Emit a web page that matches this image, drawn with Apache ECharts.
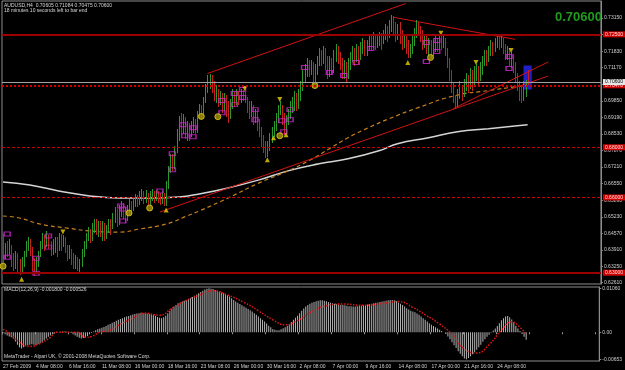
<!DOCTYPE html>
<html>
<head>
<meta charset="utf-8">
<script src="https://cdn.jsdelivr.net/npm/echarts@6.0.0/dist/echarts.min.js"></script>
<style>
html,body{margin:0;padding:0;background:#000;}
#chart{width:625px;height:370px;}
</style>
</head>
<body>
<div id="chart"></div>
<script>
// AUDUSD H4 bars (price), open of each bar = previous close
var firstOpen = 0.6446;
var closes = [
  .6366,.6394,.6378,.6402,.6354,.6338,.6366,.6322,.6306,.6338,.6378,.6402,.6422,.6386,.6338,.6314,
  .6338,.6378,.6406,.6434,.6414,.6442,.6410,.6386,.6406,.6426,.6402,.6434,.6418,.6442,.6394,.6370,
  .6386,.6354,.6330,.6346,.6322,.6338,.6378,.6410,.6442,.6466,.6434,.6474,.6498,.6474,.6490,.6466,
  .6482,.6450,.6474,.6498,.6482,.6514,.6538,.6506,.6530,.6562,.6538,.6514,.6546,.6570,.6554,.6578,
  .6594,.6578,.6602,.6614,.6594,.6610,.6586,.6602,.6618,.6598,.6614,.6606,.6594,.6610,.6586,.6642,
  .6706,.6754,.6726,.6786,.6846,.6898,.6874,.6906,.6858,.6882,.6850,.6874,.6898,.6866,.6922,.6946,
  .6938,.6986,.7034,.7066,.7074,.7042,.7002,.7018,.6986,.7006,.6970,.6994,.6954,.6930,.6970,.7002,
  .6986,.7010,.6994,.7018,.7010,.6986,.6970,.6938,.6954,.6914,.6930,.6890,.6858,.6826,.6794,.6770,
  .6802,.6834,.6858,.6882,.6914,.6946,.6962,.6922,.6874,.6906,.6938,.6954,.6970,.6994,.6970,.7002,
  .7042,.7082,.7106,.7130,.7106,.7122,.7082,.7106,.7138,.7170,.7146,.7178,.7130,.7106,.7138,.7114,
  .7154,.7186,.7162,.7130,.7098,.7122,.7090,.7122,.7154,.7178,.7154,.7186,.7162,.7194,.7210,.7186,
  .7202,.7226,.7210,.7234,.7210,.7226,.7242,.7226,.7250,.7266,.7250,.7282,.7306,.7274,.7242,.7266,
  .7234,.7210,.7226,.7194,.7170,.7186,.7218,.7250,.7282,.7266,.7242,.7210,.7226,.7194,.7210,.7186,
  .7202,.7218,.7202,.7226,.7210,.7234,.7186,.7138,.7090,.7042,.6994,.6970,.7002,.7034,.7010,.7042,
  .7066,.7042,.7074,.7050,.7082,.7106,.7074,.7106,.7138,.7162,.7146,.7178,.7202,.7186,.7210,.7226,
  .7210,.7226,.7194,.7170,.7186,.7146,.7162,.7122,.7082,.7050,.7018,.7002,.7042,.7061,.7060
];
var highs = [
  .6454,.6418,.6426,.6434,.6410,.6378,.6386,.6378,.6354,.6362,.6386,.6426,.6442,.6434,.6402,.6358,
  .6362,.6386,.6426,.6458,.6450,.6466,.6450,.6426,.6434,.6442,.6442,.6458,.6454,.6450,.6442,.6410,
  .6410,.6394,.6378,.6370,.6362,.6354,.6394,.6426,.6458,.6482,.6474,.6498,.6514,.6514,.6506,.6506,
  .6506,.6498,.6490,.6514,.6514,.6538,.6562,.6554,.6570,.6586,.6578,.6562,.6570,.6594,.6586,.6602,
  .6614,.6610,.6626,.6634,.6626,.6630,.6618,.6626,.6634,.6626,.6630,.6626,.6618,.6626,.6618,.6666,
  .6726,.6774,.6774,.6806,.6874,.6926,.6938,.6934,.6922,.6906,.6898,.6906,.6922,.6914,.6946,.6974,
  .6970,.7002,.7054,.7090,.7094,.7090,.7066,.7050,.7034,.7026,.7018,.7018,.7010,.6986,.6994,.7034,
  .7026,.7034,.7026,.7034,.7030,.7022,.7002,.6986,.6986,.6970,.6954,.6946,.6914,.6882,.6850,.6826,
  .6826,.6858,.6882,.6906,.6938,.6970,.6986,.6970,.6938,.6930,.6954,.6986,.7002,.7026,.7018,.7034,
  .7066,.7106,.7130,.7154,.7146,.7146,.7138,.7130,.7162,.7194,.7186,.7202,.7194,.7162,.7162,.7154,
  .7186,.7210,.7202,.7178,.7154,.7146,.7138,.7154,.7178,.7202,.7194,.7210,.7202,.7218,.7234,.7226,
  .7226,.7250,.7242,.7258,.7250,.7250,.7258,.7254,.7266,.7290,.7282,.7306,.7326,.7322,.7298,.7290,
  .7298,.7266,.7250,.7242,.7226,.7210,.7242,.7274,.7306,.7298,.7282,.7266,.7250,.7242,.7234,.7226,
  .7226,.7242,.7234,.7250,.7242,.7250,.7234,.7194,.7154,.7106,.7058,.7010,.7034,.7066,.7050,.7074,
  .7098,.7090,.7114,.7106,.7122,.7130,.7122,.7138,.7162,.7186,.7186,.7202,.7226,.7218,.7234,.7242,
  .7238,.7242,.7234,.7210,.7202,.7194,.7178,.7170,.7138,.7098,.7066,.7042,.7066,.7070,.7108
];
var lows = [
  .6338,.6354,.6362,.6370,.6322,.6306,.6314,.6302,.6290,.6294,.6322,.6362,.6386,.6366,.6306,.6286,
  .6298,.6322,.6362,.6394,.6386,.6402,.6394,.6366,.6370,.6378,.6362,.6386,.6386,.6402,.6378,.6346,
  .6354,.6330,.6314,.6314,.6306,.6302,.6322,.6362,.6394,.6426,.6418,.6426,.6458,.6450,.6442,.6442,
  .6426,.6426,.6434,.6458,.6450,.6474,.6498,.6482,.6490,.6522,.6514,.6498,.6506,.6530,.6530,.6546,
  .6562,.6562,.6570,.6586,.6574,.6578,.6566,.6570,.6586,.6578,.6586,.6578,.6570,.6574,.6566,.6566,
  .6634,.6698,.6706,.6714,.6778,.6826,.6850,.6854,.6834,.6826,.6826,.6842,.6858,.6854,.6858,.6914,
  .6914,.6930,.6978,.7018,.7034,.7018,.6986,.6978,.6962,.6970,.6938,.6946,.6922,.6898,.6914,.6954,
  .6962,.6970,.6970,.6978,.6986,.6978,.6938,.6914,.6922,.6890,.6898,.6866,.6842,.6802,.6778,.6758,
  .6762,.6786,.6818,.6842,.6866,.6898,.6930,.6890,.6850,.6858,.6890,.6914,.6938,.6946,.6946,.6954,
  .6986,.7026,.7058,.7082,.7082,.7090,.7050,.7058,.7090,.7122,.7122,.7130,.7106,.7074,.7082,.7090,
  .7098,.7138,.7130,.7106,.7074,.7074,.7058,.7074,.7106,.7138,.7122,.7138,.7130,.7146,.7170,.7162,
  .7162,.7186,.7186,.7194,.7186,.7194,.7202,.7186,.7210,.7226,.7218,.7234,.7258,.7250,.7218,.7226,
  .7210,.7186,.7194,.7170,.7154,.7154,.7170,.7202,.7234,.7242,.7218,.7186,.7194,.7170,.7162,.7154,
  .7162,.7178,.7178,.7186,.7186,.7194,.7162,.7114,.7066,.7018,.6978,.6954,.6962,.6994,.6986,.7002,
  .7026,.7018,.7034,.7026,.7042,.7066,.7050,.7066,.7090,.7122,.7122,.7138,.7162,.7162,.7178,.7194,
  .7186,.7194,.7170,.7146,.7146,.7122,.7114,.7098,.7058,.7026,.6986,.6978,.6986,.7002,.7048
];

// MACD(12,26,9) main values, in units of 0.0001
var macdMain = [
  -2,-5,-8,-10,-12,-15, -22,-30,-36,-39,-36,
  -33,-31,-30,-29,-30,-31,-29,-26,-24,-20, -15,-11,-8,-5,-3,-2,
  0,1,2,2,1,0,-2,-5,-8, -11,-13,-15,-14,-12,-9,-5, -2,2,5,7,9,11,
  13,15,18,20,23,25,28,30,32,34,36,38,39,41,
  43,44,45,46,47,46,46,45,44,43,42,40,37,35, 34,36,40,46,
  52,57,62,66,70,72,74,76,78,80,82,85,88,91,94,
  97,100,103,105,106,105,104,102, 100,98,96,94,92,89,86,82,78,
  74,71,68,65,62,59,56,53,50, 46,42,38,34,30,26,21,16,12, 8,6,5,5,7,10,12,
  15,20,25,30,35,40,46,52,57, 62,66,69,71,73,75,76,77,77,
  76,75,73,71,70,69,68,67,66,66, 65,64,63,63,62,62,63,64,64,65,
  66,67,68,69,70,71,72,73,74,75, 76,77,78,78,77,75,72, 69,66,62,58,55,52,50,48,
  45,42,38,34,30,26,22, 18,15,12,9,6,3,0, -4,-10,-17,-24,-31,-38,-46,
  -52,-58,-63,-65,-62,-58,-53, -48,-42,-36,-30,-23,-17,-11, -6,-1,4,9,15,22,29,
  34,38,39,36,31,24, 16,9,3,-4,-11,-18
];
// signal line read at bar positions [bar, value*0.0001]
var macdSignal = [
  [0,7],[3,-2],[8,-24],[13,-34],[18,-27],[23,-12],[26,0],[36,0],[40,-12],[43,-10],[47,0],
  [52,5],[56,17],[63,34],[69,46],[76,41],[82,58],[89,77],[95,89],[102,100],[109,90],[117,72],
  [124,52],[131,30],[137,18],[143,28],[150,50],[157,64],[165,68],[175,65],[185,70],[192,74],
  [199,60],[205,42],[212,20],[218,-5],[224,-40],[230,-50],[236,-30],[242,5],[247,25],[251,12],[254,-5]
];

// moving averages [bar, price]
var slowMa = [[0,.6662],[13,.6650],[27,.6626],[42,.6606],[56,.6598],[71,.6598],[85,.6602],[95,.6614],
  [109,.6638],[124,.6670],[138,.6706],[153,.6734],[167,.6754],[182,.6786],[191,.6814],[206,.6838],
  [220,.6862],[235,.6874],[249,.6886],[254,.6890]];
var fastMa = [[0,.6526],[8,.6518],[18,.6494],[31,.6478],[43,.6466],[56,.6462],[66,.6474],[79,.6494],
  [89,.6526],[95,.6546],[109,.6598],[124,.6658],[138,.6706],[148,.6746],[158,.6794],[167,.6838],
  [177,.6878],[187,.6914],[201,.6958],[219,.7006],[235,.7026],[249,.7042],[254,.7046]];

// drawn objects
var trendLines = [
  [[99,.7094],[195,.7373]],
  [[189,.7318],[248,.7230]],
  [[76,.6542],[264,.7084]],
  [[218,.6954],[264,.7140]]
];
var solidLevels = [0.7250, 0.6300];
var dottedLevels = [0.7047];
var dashedLevels = [0.6800, 0.6600];
var bidPrice = 0.7060;
var blueBox = [[252,.7126],[256,.7030]];

// indicator marks [bar, price]
var fractalMarks = [[2,.6454],[2,.6362],[16,.6358],[16,.6298],[22,.6446],[22,.6402],[57,.6566],[58,.6554],
  [58,.6506],[76,.6626],[82,.6774],[82,.6710],[87,.6890],[88,.6846],[92,.6878],[92,.6842],[106,.6986],
  [106,.6938],[112,.7014],[112,.6970],[116,.7030],[116,.6998],[122,.6950],[122,.6910],[135,.6906],
  [136,.6862],[139,.6950],[139,.6910],[146,.7118],[158,.7098],[165,.7086],[171,.7138],[178,.7194],
  [205,.7218],[205,.7142],[210,.7226],[210,.7182],[245,.7162],[245,.7114]];
var yellowDots = [[0,.6326],[61,.6538],[71,.6558],[96,.6923],[104,.6922],[134,.6846],[151,.7046],[207,.7158]];
var arrowsUp = [[9,.6274],[79,.6550],[128,.6750],[131,.6838],[137,.6850],[196,.7138]];
var arrowsDown = [[29,.6462],[117,.7034],[134,.6990],[212,.7254],[229,.7138],[246,.7186]];

// axis labels
var priceTicks = [0.7315,0.7249,0.7183,0.7117,0.7051,0.6985,0.6919,0.6853,0.6787,0.6721,0.6655,
  0.6589,0.6523,0.6457,0.6391,0.6325,0.6261];
var macdTicks = [0.0106, 0, -0.00653];
var timeLabels = ['27 Feb 2009','4 Mar 08:00','6 Mar 16:00','11 Mar 08:00','16 Mar 00:00','18 Mar 16:00',
  '23 Mar 08:00','26 Mar 00:00','30 Mar 16:00','2 Apr 08:00','7 Apr 00:00','9 Apr 16:00',
  '14 Apr 08:00','17 Apr 00:00','21 Apr 16:00','24 Apr 08:00'];
var lastBar = ['0.70605','0.71084','0.70475','0.70600'];
var macdNow = ['-0.001800','-0.000526'];

var SLOTS = 290;
var FONT = '"Liberation Sans", Arial, sans-serif';
var UP = '#2a9a2a', DOWN = '#c81e1e';

var cats = [];
for (var i = 0; i < SLOTS; i++) cats.push(String(i));

var bars = [];
for (var i = 0; i < closes.length; i++) {
  bars.push([i, i === 0 ? firstOpen : closes[i - 1], closes[i], lows[i], highs[i]]);
}

function boxLabel(bg, fg) {
  return {show: true, position: 'end', distance: 2, formatter: function (p) { return Number(p.value).toFixed(5); },
    backgroundColor: bg, color: fg, fontSize: 5, fontFamily: FONT, padding: [1, 3, 0, 2]};
}
var levelLines = [];
solidLevels.forEach(function (v) {
  levelLines.push({yAxis: v, lineStyle: {color: '#9a0000', width: 2, type: 'solid'}, label: boxLabel('#d00000', '#ffe0e0')});
});
dottedLevels.forEach(function (v) {
  levelLines.push({yAxis: v, lineStyle: {color: '#d00000', width: 2, type: 'dotted'}, label: boxLabel('#d00000', '#ffe0e0')});
});
dashedLevels.forEach(function (v) {
  levelLines.push({yAxis: v, lineStyle: {color: '#c80000', width: 1, type: [3, 2]}, label: boxLabel('#d00000', '#ffe0e0')});
});
levelLines.push({yAxis: bidPrice, lineStyle: {color: '#a0a0a0', width: 1, type: 'solid'}, label: boxLabel('#e6e6e6', '#000000')});

var series = [
  {
    type: 'line', xAxisIndex: 0, yAxisIndex: 0, data: [], z: 1, silent: true,
    markArea: {silent: true, itemStyle: {color: 'rgba(36,36,220,0.9)'},
      data: [[{coord: blueBox[0]}, {coord: blueBox[1]}]]}
  },
  {
    type: 'line', xAxisIndex: 0, yAxisIndex: 0, data: slowMa, smooth: true, showSymbol: false, z: 2,
    lineStyle: {color: '#d4d4d4', width: 1.5},
    markLine: {silent: true, precision: 5, symbol: ['none', 'none'], data: levelLines}
  },
  {
    type: 'line', xAxisIndex: 0, yAxisIndex: 0, data: fastMa, smooth: true, showSymbol: false, z: 2,
    lineStyle: {color: '#c8801e', width: 1.2, type: [4, 3]}
  }
];
trendLines.forEach(function (seg) {
  series.push({type: 'line', xAxisIndex: 0, yAxisIndex: 0, data: seg, showSymbol: false, z: 2,
    lineStyle: {color: '#d01414', width: 1}});
});
series.push({
  type: 'custom', xAxisIndex: 0, yAxisIndex: 0, data: bars, z: 3,
  encode: {x: 0, y: [3, 4]},
  renderItem: function (params, api) {
    var lo = api.coord([api.value(0), api.value(3)]);
    var hi = api.coord([api.value(0), api.value(4)]);
    var x = Math.round(lo[0]) + 0.5;
    return {type: 'line', shape: {x1: x, y1: Math.round(lo[1]), x2: x, y2: Math.round(hi[1])},
      style: {stroke: api.value(2) >= api.value(1) ? UP : DOWN, lineWidth: 1}};
  }
});
series.push({type: 'scatter', xAxisIndex: 0, yAxisIndex: 0, data: fractalMarks, symbol: 'rect', symbolSize: [6, 4], z: 4,
  itemStyle: {color: 'rgba(0,0,0,0)', borderColor: '#d028d0', borderWidth: 1.2}});
series.push({type: 'scatter', xAxisIndex: 0, yAxisIndex: 0, data: yellowDots, symbol: 'circle', symbolSize: 6, z: 4,
  itemStyle: {color: '#a89600', borderColor: '#e0cc20', borderWidth: 1}});
series.push({type: 'scatter', xAxisIndex: 0, yAxisIndex: 0, data: arrowsUp, symbol: 'triangle', symbolSize: 5, z: 4,
  itemStyle: {color: '#e8d000'}});
series.push({type: 'scatter', xAxisIndex: 0, yAxisIndex: 0, data: arrowsDown, symbol: 'triangle', symbolRotate: 180, symbolSize: 5, z: 4,
  itemStyle: {color: '#e8d000'}});
series.push({type: 'bar', xAxisIndex: 1, yAxisIndex: 1, barWidth: 1, z: 2,
  data: macdMain.map(function (v) { return v / 10000; }), itemStyle: {color: '#b4b4b4'}});
series.push({type: 'line', xAxisIndex: 1, yAxisIndex: 1, showSymbol: false, smooth: true, z: 3,
  data: macdSignal.map(function (p) { return [p[0], p[1] / 10000]; }),
  lineStyle: {color: '#e01818', width: 1.5, type: 'dotted'}});

var chart = echarts.init(document.getElementById('chart'));
chart.setOption({
  backgroundColor: '#000000',
  animation: false,
  grid: [
    {left: 2, top: 1, width: 603, height: 283, show: true, borderColor: '#8c8c8c', borderWidth: 1},
    {left: 2, top: 287, width: 603, height: 74, show: true, borderColor: '#8c8c8c', borderWidth: 1}
  ],
  xAxis: [
    {type: 'category', gridIndex: 0, data: cats, boundaryGap: true,
      axisLine: {show: false}, axisTick: {show: false}, axisLabel: {show: false}, splitLine: {show: false}},
    {type: 'category', gridIndex: 1, data: cats, boundaryGap: true,
      axisLine: {show: false},
      axisTick: {show: true, length: 2, interval: function (i) { return i % 16 === 0; }, lineStyle: {color: '#9a9a9a'}},
      axisLabel: {show: true, interval: function (i) { return i % 16 === 0; },
        formatter: function (v, i) { return timeLabels[i / 16] || ''; },
        align: 'left', color: '#d0d0d0', fontSize: 5, fontFamily: FONT, margin: 3},
      splitLine: {show: false}}
  ],
  yAxis: [
    {type: 'value', gridIndex: 0, position: 'right', min: 0.6255, max: 0.7383,
      axisLine: {show: true, lineStyle: {color: '#8c8c8c'}},
      axisTick: {show: true, length: 2, customValues: priceTicks, lineStyle: {color: '#8c8c8c'}},
      axisLabel: {customValues: priceTicks, formatter: function (v) { return v.toFixed(5); },
        color: '#d0d0d0', fontSize: 5, fontFamily: FONT, margin: 3},
      splitLine: {show: false}},
    {type: 'value', gridIndex: 1, position: 'right', min: -0.00692, max: 0.01091,
      axisLine: {show: true, lineStyle: {color: '#8c8c8c'}},
      axisTick: {show: true, length: 2, customValues: macdTicks, lineStyle: {color: '#8c8c8c'}},
      axisLabel: {customValues: macdTicks, formatter: function (v) { return v === 0 ? '0.00' : v.toFixed(5); },
        color: '#d0d0d0', fontSize: 5, fontFamily: FONT, margin: 3},
      splitLine: {show: false}}
  ],
  graphic: [
    {type: 'text', left: 4, top: 3, style: {text: 'AUDUSD,H4  ' + lastBar.join(' '), fill: '#d8d8d8', font: '5px ' + FONT}},
    {type: 'text', left: 4, top: 8, style: {text: '18 minutes 10 seconds left to bar end', fill: '#d8d8d8', font: '5px ' + FONT}},
    {type: 'text', right: 23, top: 11, style: {text: lastBar[3], fill: '#1f9a1f', font: 'bold 13px ' + FONT}},
    {type: 'text', left: 4, top: 287, style: {text: 'MACD(12,26,9) ' + macdNow.join(' '), fill: '#d8d8d8', font: '5px ' + FONT}},
    {type: 'text', left: 4, top: 354, style: {text: 'MetaTrader - Alpari UK, \u00a9 2001-2008 MetaQuotes Software Corp.', fill: '#d8d8d8', font: '5px ' + FONT}}
  ],
  series: series
});
</script>
</body>
</html>
